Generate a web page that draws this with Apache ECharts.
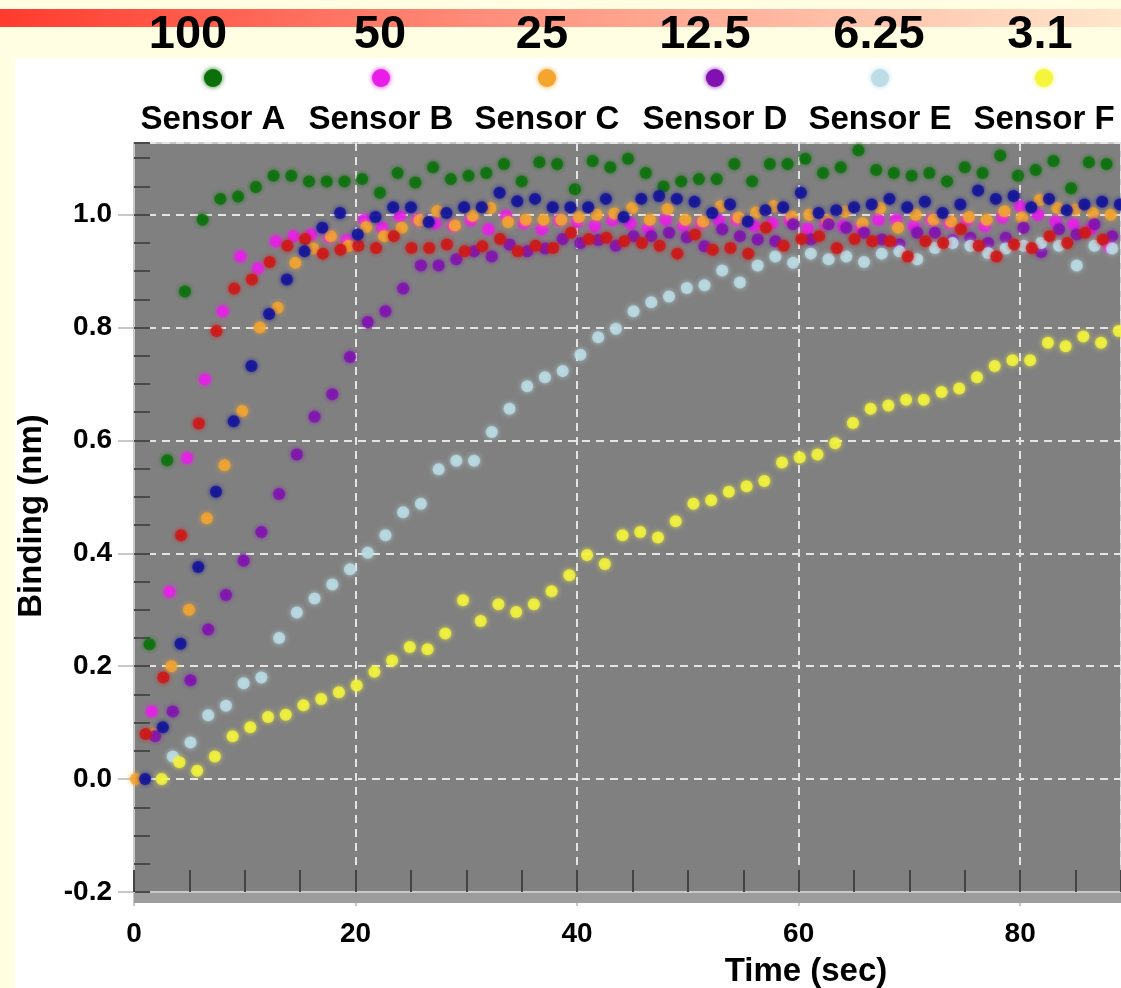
<!DOCTYPE html>
<html>
<head>
<meta charset="utf-8">
<title>Binding</title>
<script src="https://cdn.jsdelivr.net/npm/echarts@6/dist/echarts.min.js"></script>
<style>
  html, body { margin: 0; padding: 0; background: #fffee2; }
  #main { width: 1121px; height: 988px; }
</style>
</head>
<body>
<div id="main"></div>
<script>
// 数据：时间步长 1.6 秒，每条曲线各自的起始时间
var sampleStep = 1.6;
var seriesNames = ['Sensor A', 'Sensor B', 'Sensor C', 'Sensor D', 'Sensor E', 'Sensor F', 'Sensor G', 'Sensor H'];
var concLabels = ['100', '50', '25', '12.5', '6.25', '3.1'];
var seriesColors = ['#0a700a', '#e81ee8', '#f4a52e', '#8010b0', '#bcdde6', '#f5f53c', '#d01515', '#10109a'];
var startTimes = [1.4, 1.6, 0.17, 1.9, 3.5, 2.5, 1.05, 1.0];

var sensorA = [0.239,0.565,0.864,0.991,1.028,1.032,1.049,1.069,1.069,1.059,1.059,1.059,1.063,1.039,1.074,1.057,1.084,1.063,1.069,1.074,1.090,1.059,1.093,1.090,1.045,1.095,1.084,1.099,
  1.074,1.050,1.059,1.063,1.063,1.090,1.059,1.090,1.090,1.099,1.074,1.084,1.114,1.079,1.074,1.069,1.074,1.059,1.084,1.074,1.105,1.069,1.079,1.095,1.047,1.093,1.090];
var sensorB = [0.12,0.332,0.569,0.708,0.829,0.926,0.905,0.953,0.962,0.965,0.96,0.955,0.991,0.977,0.997,0.991,0.985,0.98,0.99,0.974,0.998,0.985,0.974,0.99,0.987,0.98,0.99,
  0.985,0.975,0.991,0.98,0.985,0.99,0.991,0.98,0.985,0.99,0.975,0.985,0.98,0.977,0.991,0.991,0.98,0.99,0.985,0.99,0.98,0.995,1.015,1.0,0.988,0.983,0.975,0.944];
var sensorC = [0.0,0.08,0.2,0.30,0.462,0.556,0.652,0.80,0.835,0.915,0.94,0.962,0.945,0.978,0.962,0.977,0.99,1.006,0.981,0.998,1.012,0.987,0.991,0.991,0.991,0.996,1.0,1.002,
  1.012,0.991,1.01,0.991,0.988,1.015,0.995,1.004,1.015,0.997,1.0,0.99,1.005,0.985,1.012,0.977,1.0,0.991,0.988,0.996,0.991,1.006,0.995,1.026,1.012,1.009,1.003,1.0];
var sensorD = [0.076,0.12,0.175,0.265,0.326,0.387,0.438,0.505,0.575,0.642,0.682,0.748,0.81,0.829,0.869,0.91,0.91,0.921,0.935,0.926,0.947,0.935,0.94,0.957,0.95,0.955,0.945,
  0.962,0.962,0.968,0.96,0.944,0.974,0.962,0.956,0.953,0.983,0.956,0.983,0.977,0.968,0.956,0.947,0.968,0.968,0.955,0.959,0.95,0.959,0.977,0.934,0.974,0.965,0.983,0.962];
var sensorE = [0.04,0.065,0.113,0.13,0.17,0.18,0.25,0.295,0.32,0.345,0.372,0.401,0.432,0.473,0.488,0.549,0.564,0.564,0.615,0.656,0.696,0.712,0.723,0.752,0.783,0.798,0.829,
  0.845,0.855,0.87,0.875,0.901,0.88,0.91,0.926,0.915,0.931,0.921,0.926,0.916,0.931,0.935,0.921,0.941,0.95,0.945,0.932,0.94,0.945,0.95,0.945,0.91,0.945,0.94];
var sensorF = [0.0,0.03,0.015,0.04,0.076,0.092,0.11,0.114,0.131,0.142,0.154,0.166,0.19,0.21,0.234,0.23,0.258,0.317,0.28,0.31,0.296,0.31,0.333,0.361,0.397,0.381,0.432,
  0.438,0.428,0.457,0.488,0.494,0.509,0.519,0.528,0.561,0.57,0.575,0.595,0.631,0.656,0.662,0.672,0.672,0.686,0.692,0.712,0.732,0.742,0.742,0.773,0.767,0.784,0.773,0.794];
var sensorG = [0.08,0.18,0.432,0.63,0.794,0.869,0.885,0.916,0.945,0.957,0.931,0.938,0.945,0.941,0.962,0.941,0.941,0.947,0.935,0.944,0.957,0.935,0.945,0.941,0.968,0.957,0.959,
  0.953,0.95,0.945,0.931,0.965,0.938,0.941,0.931,0.977,0.945,0.957,0.962,0.941,0.957,0.953,0.953,0.926,0.953,0.95,0.974,0.945,0.926,0.947,0.941,0.962,0.95,0.968,0.956];
var sensorH = [0.0,0.092,0.24,0.376,0.509,0.634,0.732,0.824,0.885,0.935,0.977,1.003,0.965,0.996,1.013,1.013,0.987,1.003,1.013,1.013,1.039,1.024,1.028,1.013,1.013,1.013,1.028,0.996,
  1.028,1.033,1.028,1.023,1.003,1.018,0.988,1.008,1.013,1.039,1.003,1.008,1.013,1.018,1.028,1.013,1.023,1.003,1.018,1.043,1.028,1.033,1.013,1.028,1.008,1.018,1.023,1.018];
var allValues = [sensorA, sensorB, sensorC, sensorD, sensorE, sensorF, sensorG, sensorH];

// 版面位置（图例、浓度标签的中心横坐标）
var legendX = [213, 381, 547, 715, 880, 1044];
var concX = [188, 380, 542, 705, 879, 1040];
var FONT = '"Liberation Sans", Arial, sans-serif';

var chart = echarts.init(document.getElementById('main'));

function toPairs(vals, t0) {
  var out = [];
  for (var i = 0; i < vals.length; i++) {
    out.push([+(t0 + i * sampleStep).toFixed(2), vals[i]]);
  }
  return out;
}

var series = [];
for (var s = 0; s < allValues.length; s++) {
  series.push({
    name: seriesNames[s],
    type: 'scatter',
    symbol: 'circle',
    symbolSize: 12,
    xAxisIndex: 0,
    yAxisIndex: 0,
    data: toPairs(allValues[s], startTimes[s]),
    itemStyle: {
      color: seriesColors[s],
      shadowBlur: 5,
      shadowColor: seriesColors[s]
    },
    z: 3 + s
  });
}

// 顶部红条、白色面板、图例、轴标题
var graphics = [
  { type: 'rect', z: -10, shape: { x: 15, y: 58, width: 1106, height: 930 }, style: { fill: '#ffffff' } },
  { type: 'rect', z: -9, shape: { x: 0, y: 9, width: 1121, height: 18 },
    style: { fill: new echarts.graphic.LinearGradient(0, 0, 1, 0, [
      { offset: 0, color: '#ff3b2e' },
      { offset: 0.5, color: '#ff9a86' },
      { offset: 1, color: '#ffe6cc' }
    ]) } },
  { type: 'rect', z: 1, shape: { x: 134, y: 893, width: 987, height: 10 }, style: { fill: '#9c9c9c' } },
  { type: 'text', x: 806, y: 972, z: 5,
    style: { text: 'Time (sec)', font: 'bold 33px ' + FONT, fill: '#000', textAlign: 'center', textVerticalAlign: 'middle' } },
  { type: 'text', x: 32, y: 516, rotation: Math.PI / 2, z: 5,
    style: { text: 'Binding (nm)', font: 'bold 33px ' + FONT, fill: '#000', textAlign: 'center', textVerticalAlign: 'middle' } }
];
for (var k = 0; k < concLabels.length; k++) {
  graphics.push({ type: 'text', x: concX[k], y: 35, z: 5,
    style: { text: concLabels[k], font: 'bold 47px ' + FONT, fill: '#000', textAlign: 'center', textVerticalAlign: 'middle' } });
  graphics.push({ type: 'circle', z: 5, shape: { cx: legendX[k], cy: 78, r: 9 },
    style: { fill: seriesColors[k], shadowBlur: 5, shadowColor: seriesColors[k] } });
  graphics.push({ type: 'text', x: legendX[k], y: 120, z: 5,
    style: { text: seriesNames[k], font: 'bold 33px ' + FONT, fill: '#000', textAlign: 'center', textVerticalAlign: 'middle' } });
}

var gridDash = { color: '#e4e4e4', width: 2, type: [8, 6] };

var option = {
  animation: false,
  backgroundColor: '#fffee2',
  graphic: graphics,
  grid: {
    left: 134, right: 0, top: 143, bottom: 96,
    show: true, backgroundColor: '#808080', borderColor: '#c8c8c8', borderWidth: 2
  },
  xAxis: [{
    type: 'value', min: 0, max: 89.1, interval: 20,
    axisLine: { show: true, onZero: false, lineStyle: { color: '#c8c8c8', width: 2 } },
    axisTick: { show: true, length: 14, lineStyle: { color: '#c8c8c8', width: 2 } },
    axisLabel: { color: '#000', fontSize: 28, fontWeight: 'bold', fontFamily: FONT, margin: 28, showMaxLabel: false },
    splitLine: { show: true, lineStyle: gridDash }
  }, {
    type: 'value', min: 0, max: 89.1, interval: 5, position: 'bottom',
    axisLine: { show: false, onZero: false },
    axisTick: { show: true, inside: true, length: 22, lineStyle: { color: '#444444', width: 2 } },
    axisLabel: { show: false },
    splitLine: { show: false }
  }],
  yAxis: [{
    type: 'value', min: -0.2, max: 1.127, interval: 0.2,
    axisLine: { show: true, onZero: false, lineStyle: { color: '#c8c8c8', width: 2 } },
    axisTick: { show: true, length: 16, lineStyle: { color: '#c8c8c8', width: 2 } },
    axisLabel: {
      color: '#000', fontSize: 28, fontWeight: 'bold', fontFamily: FONT, margin: 22, showMaxLabel: false,
      formatter: function (v) { return v.toFixed(1); }
    },
    splitLine: { show: true, lineStyle: gridDash }
  }, {
    type: 'value', min: -0.2, max: 1.127, interval: 0.05, position: 'left',
    axisLine: { show: false, onZero: false },
    axisTick: { show: true, inside: true, length: 16, lineStyle: { color: '#4a4a4a', width: 2 } },
    axisLabel: { show: false },
    splitLine: { show: false }
  }],
  series: series
};

chart.setOption(option);
</script>
</body>
</html>
